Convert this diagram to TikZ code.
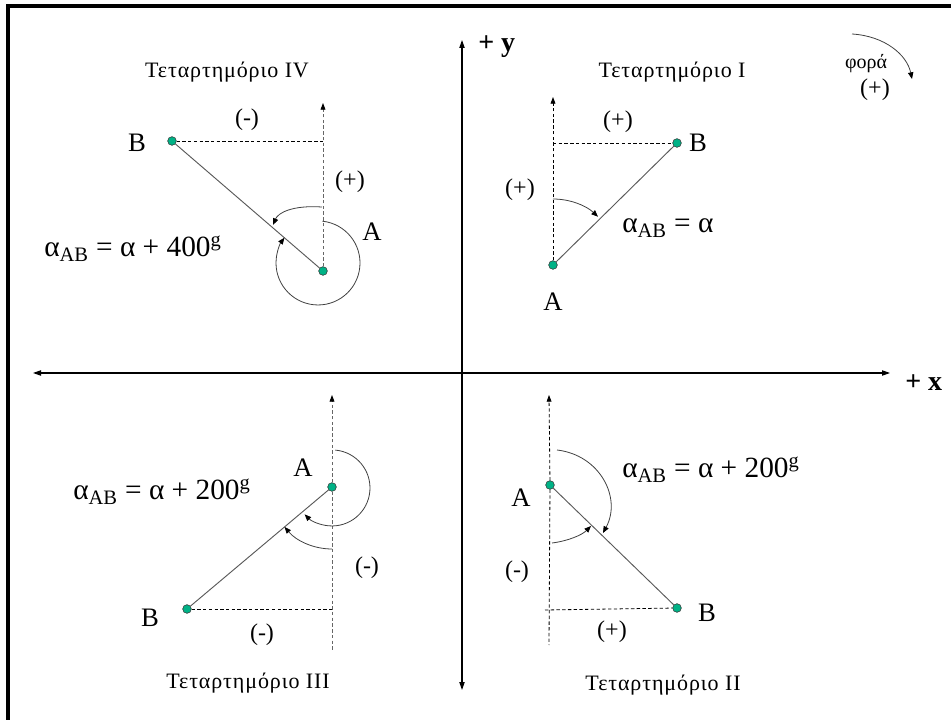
\documentclass[tikz,border=0pt]{standalone}
\usepackage{fontspec}
\setmainfont{Liberation Serif}
\usetikzlibrary{arrows.meta}
\definecolor{dotgreen}{RGB}{0,178,134}

\begin{document}
\begin{tikzpicture}[
  x=0.75pt,y=-0.75pt,
  dot/.style={circle,draw=black!80,fill=dotgreen,line width=0.4pt,inner sep=0pt,minimum size=6.5pt},
  seg/.style={draw=black!65,line width=0.7pt},
  guide/.style={dash pattern=on 2.5pt off 1.8pt,line width=0.6pt},
  tip/.style={-{Triangle[length=5pt,width=3.6pt,color=black]}},
  ang/.style={draw=black!75,line width=0.6pt,-{Triangle[length=5pt,width=4pt,color=black]}},
  axis/.style={line width=0.8pt,{Triangle[length=6pt,width=4pt]}-{Triangle[length=6pt,width=4pt]}},
  lbl/.style={font=\fontsize{20}{24}\selectfont,inner sep=0pt},
  sgn/.style={font=\fontsize{18}{21}\selectfont,inner sep=0pt},
  quad/.style={font=\fontsize{16.5}{19}\selectfont\addfontfeature{LetterSpace=4},inner sep=0pt},
  form/.style={font=\fontsize{22}{26}\selectfont,inner sep=0pt,anchor=base west}
]
\useasboundingbox (0,0) rectangle (951,720);
\draw[line width=2.4pt] (8,6) rectangle (1000,780);

% axes
\coordinate (yt) at (462,40);
\coordinate (yb) at (462,690);
\coordinate (xl) at (33,373);
\coordinate (xr) at (890,373);
\draw[axis] (yb) -- (yt);
\draw[axis] (xl) -- (xr);
\node[font=\fontsize{21}{24}\selectfont\bfseries,anchor=west,inner sep=0pt] (ylab) at (478,47) {+ y};
\node[font=\fontsize{21}{24}\selectfont\bfseries,anchor=west,inner sep=0pt] (xlab) at (905,383) {+ x};

% direction of rotation
\coordinate (r1) at (852,34);
\coordinate (r2) at (912,79);
\draw[ang] (r1) .. controls (885,36) and (907,55) .. (r2);
\node[font=\fontsize{15}{18}\selectfont,inner sep=0pt] (fora) at (866,64) {φορά};
\node[sgn] (forap) at (875,90) {(+)};

% quadrant I
\node[quad] (q1) at (672,72) {Τεταρτημόριο I};
\node[dot] (a1) at (553,265) {};
\node[dot] (b1) at (677,143) {};
\coordinate (t1) at (553,97);
\coordinate (c1) at (553,143);
\draw[guide,tip] (a1) -- (t1);
\draw[guide] (c1) -- (b1);
\draw[seg] (a1) -- (b1);
\coordinate (s1) at (553,199);
\draw[ang] (s1) arc[start angle=-90,end angle=-47,radius=66];
\node[lbl] (la1) at (553,302) {A};
\node[lbl] (lb1) at (698,143) {B};
\node[sgn] (dx1) at (618,122) {(+)};
\node[sgn] (dy1) at (520,190) {(+)};
\node[form] (f1) at (622,233) {α\textsubscript{AB} = α};

% quadrant IV
\node[quad] (q4) at (227,72) {Τεταρτημόριο IV};
\node[dot] (a4) at (323,271) {};
\node[dot] (b4) at (172,141) {};
\coordinate (t4) at (323,103);
\coordinate (c4) at (323,141);
\draw[guide,draw=black!60,tip] (a4) -- (t4);
\draw[guide] (b4) -- (c4);
\draw[seg] (a4) -- (b4);
\coordinate (s4) at (322,207);
\coordinate (e4) at (273,225);
\draw[ang] (s4) .. controls (292,205) and (278,213) .. (e4);
\coordinate (w4) at (322.4,221.2);
\draw[ang] (w4) arc[start angle=-84,end angle=217,radius=42];
\node[lbl] (la4) at (372,232) {A};
\node[lbl] (lb4) at (137,143) {B};
\node[sgn] (dx4) at (247,120) {(-)};
\node[sgn] (dy4) at (350,182) {(+)};
\node[form] (f4) at (44,257) {α\textsubscript{AB} = α + 400\textsuperscript{g}};

% quadrant III
\node[quad] (q3) at (248,683) {Τεταρτημόριο III};
\node[dot] (a3) at (332,487) {};
\node[dot] (b3) at (187,609) {};
\coordinate (t3) at (332,395);
\coordinate (e3) at (332,650);
\coordinate (c3) at (332,609);
\draw[guide,draw=black!60,tip] (a3) -- (t3);
\draw[guide,draw=black!60] (a3) -- (e3);
\draw[guide] (b3) -- (c3);
\draw[seg] (a3) -- (b3);
\coordinate (s3) at (335.3,450.1);
\draw[ang] (s3) arc[start angle=-85,end angle=136,radius=38];
\coordinate (w3) at (332,549);
\draw[ang] (w3) arc[start angle=90,end angle=140,radius=62];
\node[lbl] (la3) at (303,468) {A};
\node[lbl] (lb3) at (150,618) {B};
\node[sgn] (dy3) at (367,568) {(-)};
\node[sgn] (dx3) at (262,635) {(-)};
\node[form] (f3) at (73,500) {α\textsubscript{AB} = α + 200\textsuperscript{g}};

% quadrant II
\node[quad] (q2) at (663,685) {Τεταρτημόριο II};
\node[dot] (a2) at (550,485) {};
\node[dot] (b2) at (677,608) {};
\coordinate (t2) at (549,395);
\coordinate (e2) at (549,645);
\coordinate (c2) at (545,610);
\draw[guide,tip] (a2) -- (t2);
\draw[guide] (a2) -- (e2);
\draw[guide] (c2) -- (b2);
\draw[seg] (a2) -- (b2);
\coordinate (s2) at (557,450);
\coordinate (m2) at (603,533);
\draw[ang] (s2) .. controls (600,455) and (622,498) .. (m2);
\coordinate (w2) at (552,543);
\coordinate (n2) at (591,526);
\draw[ang] (w2) .. controls (568,541) and (582,535) .. (n2);
\node[lbl] (la2) at (521,498) {A};
\node[lbl] (lb2) at (707,613) {B};
\node[sgn] (dy2) at (517,572) {(-)};
\node[sgn] (dx2) at (612,632) {(+)};
\node[form] (f2) at (622,478) {α\textsubscript{AB} = α + 200\textsuperscript{g}};
\end{tikzpicture}
\end{document}
